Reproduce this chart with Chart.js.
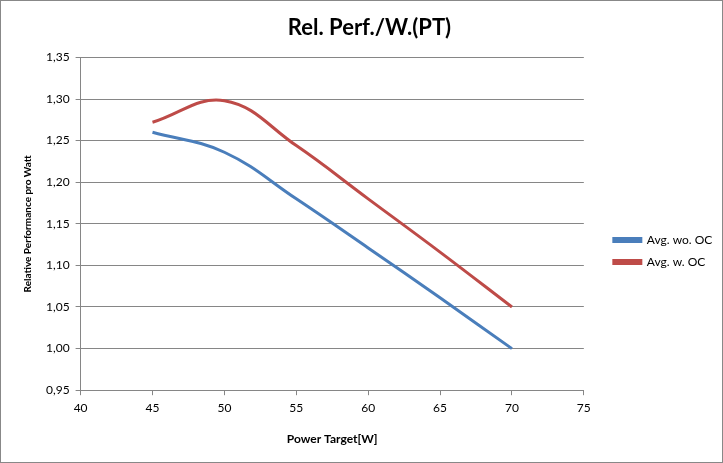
<!DOCTYPE html>
<html>
<head>
<meta charset="utf-8">
<script src="https://cdn.jsdelivr.net/npm/chart.js@4"></script>
<style>
  html, body { margin: 0; padding: 0; background: #fff; }
  #wrap { width: 723px; height: 463px; }
</style>
</head>
<body>
<div id="wrap"><canvas id="perf-chart" width="723" height="463"></canvas></div>
<script>
var powerTarget = [45, 50, 55, 60, 65, 70];
var avgWoOC = [1.260, 1.236, 1.180, 1.121, 1.061, 1.000];
var avgWOC = [1.272, 1.298, 1.244, 1.180, 1.116, 1.050];
var seriesNames = ['Avg. wo. OC', 'Avg. w. OC'];

function toPoints(values) {
  return powerTarget.map(function(x, i) { return { x: x, y: values[i] }; });
}

var gridColor = '#868686';
var fontFamily = 'Lato, "Open Sans", sans-serif';

// thin grey border round the whole chart, like the Excel chart area
var frame = {
  id: 'frame',
  afterDraw: function(chart) {
    var ctx = chart.ctx;
    ctx.save();
    ctx.strokeStyle = '#888888';
    ctx.lineWidth = 1;
    ctx.strokeRect(0.5, 0.5, chart.width - 1, chart.height - 1);
    ctx.restore();
  }
};

var elem = document.getElementById('perf-chart');

var perfChart = new Chart(elem, {
  type: 'line',
  data: {
    datasets: [{
      label: seriesNames[0],
      data: toPoints(avgWoOC),
      borderColor: '#4A7EBB',
      backgroundColor: '#4A7EBB',
      borderWidth: 3,
      pointRadius: 0,
      tension: 0.4
    }, {
      label: seriesNames[1],
      data: toPoints(avgWOC),
      borderColor: '#BE4B48',
      backgroundColor: '#BE4B48',
      borderWidth: 3,
      pointRadius: 0,
      tension: 0.4
    }]
  },
  options: {
    responsive: false,
    animation: false,
    layout: {
      padding: { left: 18, right: 2, top: 0, bottom: 13 }
    },
    plugins: {
      title: {
        display: true,
        text: 'Rel. Perf./W.(PT)',
        color: '#000',
        font: { family: fontFamily, size: 22, weight: 'bold' },
        padding: { top: 15, bottom: 16 }
      },
      legend: {
        position: 'right',
        // empty legend title just pushes the two entries down a bit
        title: {
          display: true,
          text: '',
          font: { family: fontFamily, size: 12 },
          padding: { top: 0, bottom: 37.6 }
        },
        labels: {
          boxWidth: 27,
          boxHeight: 3,
          padding: 10,
          color: '#000',
          font: { family: fontFamily, size: 12 }
        }
      },
      tooltip: { enabled: false }
    },
    scales: {
      x: {
        type: 'linear',
        min: 40,
        max: 75,
        ticks: {
          stepSize: 5,
          color: '#000',
          font: { family: fontFamily, size: 12 },
          padding: 6
        },
        grid: {
          drawOnChartArea: false,
          tickLength: 5,
          color: gridColor
        },
        border: { color: gridColor },
        title: {
          display: true,
          text: 'Power Target[W]',
          color: '#000',
          font: { family: fontFamily, size: 12, weight: 'bold' },
          padding: { top: 10 }
        }
      },
      y: {
        min: 0.95,
        max: 1.35,
        ticks: {
          stepSize: 0.05,
          color: '#000',
          font: { family: fontFamily, size: 12 },
          padding: 6,
          callback: function(value) {
            return value.toFixed(2).replace('.', ',');
          }
        },
        grid: {
          tickLength: 5,
          color: gridColor
        },
        border: { color: gridColor },
        title: {
          display: true,
          text: 'Relative Performance pro Watt',
          color: '#000',
          font: { family: fontFamily, size: 10, weight: 'bold' },
          padding: { bottom: 6 }
        }
      },
      // empty right-hand axis, only there to keep a gap before the legend
      gap: {
        type: 'linear',
        position: 'right',
        grid: { display: false },
        ticks: { display: false },
        border: { display: false },
        afterFit: function(scale) {
          scale.width = 20;
        }
      }
    }
  },
  plugins: [frame]
});
</script>
</body>
</html>
